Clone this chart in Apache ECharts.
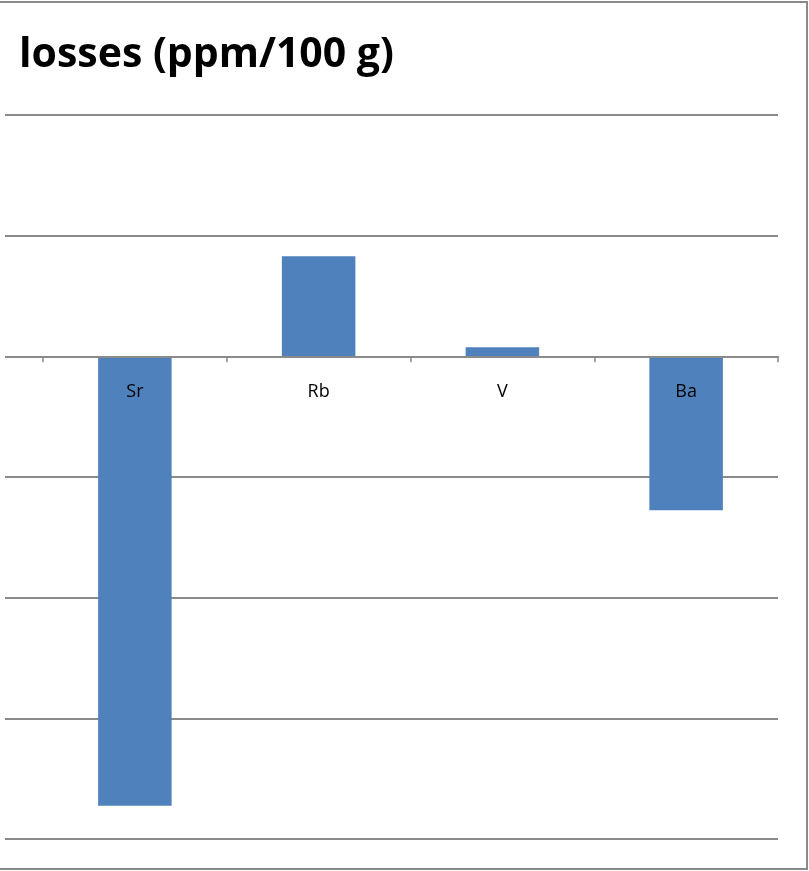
<!DOCTYPE html>
<html>
<head>
<meta charset="utf-8">
<script src="https://cdn.jsdelivr.net/npm/echarts@6/dist/echarts.min.js"></script>
<style>html,body{margin:0;padding:0;background:#fff}#c{width:809px;height:871px}</style>
</head>
<body>
<div id="c"></div>
<script>
var titleText = 'losses (ppm/100 g)';
var categories = ['Sr', 'Rb', 'V', 'Ba'];
var values = [-74.5, 16.6, 1.5, -25.5];
var yMin = -80, yMax = 40, yStep = 20;

var gridColor = '#8a8a8a';
var gridTop = 115, gridBottom = 32, chartH = 871;
var plotH = chartH - gridTop - gridBottom;
var zeroOffset = -plotH * (0 - yMin) / (yMax - yMin);

var chart = echarts.init(document.getElementById('c'));
var yAxisCommon = {
  type: 'value', min: yMin, max: yMax, interval: yStep,
  axisLabel: { show: false }, axisLine: { show: false }, axisTick: { show: false },
  splitLine: { show: true, lineStyle: { color: gridColor, width: 1.8 } }
};
chart.setOption({
  animation: false,
  backgroundColor: '#ffffff',
  title: {
    text: titleText, left: 14, top: 30,
    textStyle: { fontFamily: 'Open Sans', fontWeight: 'bold', fontSize: 41, color: '#000' }
  },
  grid: [
    { left: 43, right: 31, top: gridTop, bottom: gridBottom, outerBoundsMode: 'none', containLabel: false },
    { left: 5, width: 38, top: gridTop, bottom: gridBottom, outerBoundsMode: 'none', containLabel: false }
  ],
  xAxis: [
    {
      type: 'category', data: categories, gridIndex: 0, position: 'bottom',
      offset: zeroOffset,
      axisLine: { onZero: false, lineStyle: { color: gridColor, width: 1.8 } },
      axisTick: { show: true, length: 6, lineStyle: { color: gridColor, width: 1.5 } },
      axisLabel: { margin: 27, fontFamily: 'Open Sans', fontSize: 18, color: '#000' },
      z: 5
    },
    {
      type: 'category', data: [''], gridIndex: 1,
      axisLine: { show: false }, axisTick: { show: false }, axisLabel: { show: false }
    }
  ],
  yAxis: [
    Object.assign({ gridIndex: 0 }, yAxisCommon),
    Object.assign({ gridIndex: 1 }, yAxisCommon)
  ],
  series: [{
    type: 'bar', data: values, xAxisIndex: 0, yAxisIndex: 0,
    barWidth: '40%', itemStyle: { color: '#4F81BD' }, z: 2
  }],
  graphic: [{
    type: 'rect', silent: true,
    shape: { x: -10, y: 2, width: 817, height: 867 },
    style: { fill: 'none', stroke: '#8a8a8a', lineWidth: 2 }
  }]
});
</script>
</body>
</html>
